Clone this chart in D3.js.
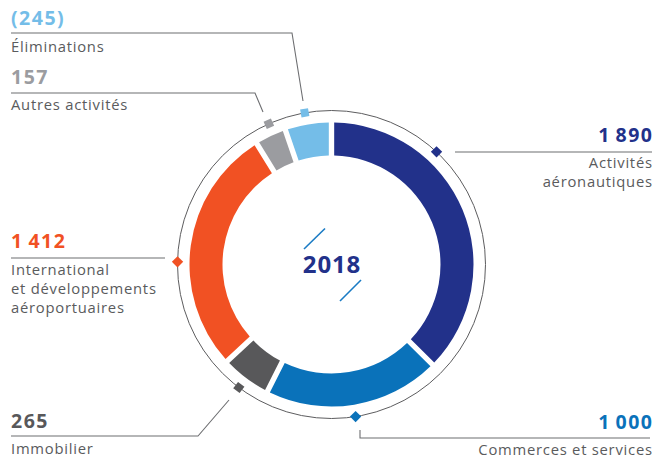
<!DOCTYPE html>
<html><head><meta charset="utf-8">
<script src="https://cdn.jsdelivr.net/npm/d3@7"></script>
<style>
html,body{margin:0;padding:0;background:#fff;}
svg{display:block;font-family:"Open Sans","Lato",sans-serif;}
</style></head>
<body><svg id="chart" width="654" height="463"></svg>
<script>
// ---- data ----
const year = "2018";
const categories = ["Activités aéronautiques", "Commerces et services", "Immobilier",
  "International et développements aéroportuaires", "Autres activités", "Éliminations"];
const values = [1890, 1000, 265, 1412, 157, -245];
const labelLines = [["Activités", "aéronautiques"], ["Commerces et services"], ["Immobilier"],
  ["International", "et développements", "aéroportuaires"], ["Autres activités"], ["Éliminations"]];
const colors = ["#22318a", "#0a72ba", "#58585a", "#f15123", "#9b9ca0", "#74bde8"];

// ---- layout ----
const W = 654, H = 463, cx = 331.5, cy = 264.5;
const rOuter = 142, rInner = 109, rRing = 154;
const numLS = 1.5, labLS = 0.75;
const layout = [
  {markerDeg: 43, rot: 45, textX: 652, anchor: "end", numY: 141.5, labY: 168, path: [[455,152],[652,152]]},
  {markerDeg: 171, rot: 45, textX: 652, anchor: "end", numY: 429, labY: 455, path: [[360,430],[360,438],[650,438]]},
  {markerDeg: 217, rot: 37, textX: 11, anchor: "start", numY: 428, labY: 454, path: [[229,400],[198,436],[11,436]]},
  {markerDeg: 271, rot: 45, textX: 11, anchor: "start", numY: 248, labY: 275, path: [[165,258],[11,258]]},
  {markerDeg: 336, rot: -24, textX: 11, anchor: "start", numY: 84, labY: 110, path: [[263,112],[255,93],[11,93]]},
  {markerDeg: 350, rot: -10, textX: 11, anchor: "start", numY: 25, labY: 52, path: [[303,101],[292,33],[11,33]]}
];

const fmtLocale = d3.formatLocale({decimal: ",", thousands: "\u2009", grouping: [3], currency: ["", " €"]});
const fmtN = fmtLocale.format(",d");
const fmt = v => v < 0 ? "(" + fmtN(-v) + ")" : fmtN(v);

const svg = d3.select("#chart");
const g = svg.append("g").attr("transform", `translate(${cx},${cy})`);

const pie = d3.pie().value(d => Math.abs(d)).sort(null).padAngle(0.03);
const arcs = pie(values);
const arc = d3.arc().innerRadius(rInner).outerRadius(rOuter);

g.selectAll("path.seg").data(arcs).join("path")
  .attr("class", "seg").attr("d", arc).attr("fill", (d, i) => colors[i]);

// thin ring
g.append("circle").attr("r", rRing).attr("fill", "none").attr("stroke", "#5d5d5f").attr("stroke-width", 1);

// leader lines
const line = d3.line();
svg.selectAll("path.leader").data(layout).join("path")
  .attr("class", "leader").attr("d", d => line(d.path))
  .attr("fill", "none").attr("stroke", "#6d6e71").attr("stroke-width", 1.1);

// markers
const ang = d3.scaleLinear().domain([0, 360]).range([0, 2 * Math.PI]);
g.selectAll("rect.mk").data(layout).join("rect")
  .attr("class", "mk")
  .attr("x", -4).attr("y", -4).attr("width", 8).attr("height", 8)
  .attr("fill", (d, i) => colors[i])
  .attr("transform", d => {
    const a = ang(d.markerDeg);
    return `translate(${rRing * Math.sin(a)},${-rRing * Math.cos(a)}) rotate(${d.rot})`;
  });

// numbers
svg.selectAll("text.num").data(layout).join("text")
  .attr("class", "num").attr("x", d => d.anchor === "end" ? d.textX + numLS : d.textX).attr("y", d => d.numY)
  .attr("text-anchor", d => d.anchor)
  .attr("font-size", 19.5).attr("font-weight", 700).attr("letter-spacing", numLS)
  .attr("fill", (d, i) => colors[i])
  .text((d, i) => fmt(values[i]));

// labels
layout.forEach((d, i) => {
  const x = d.anchor === "end" ? d.textX + labLS : d.textX;
  const t = svg.append("text").attr("x", x).attr("y", d.labY)
    .attr("text-anchor", d.anchor).attr("font-size", 14.8).attr("letter-spacing", labLS)
    .attr("fill", "#5a5b5d");
  labelLines[i].forEach((s, j) => {
    t.append("tspan").attr("x", x).attr("y", d.labY + j * 19).text(s);
  });
});

// center
g.append("text").attr("x", 0.4).attr("y", 8.5).attr("text-anchor", "middle")
  .attr("font-size", 24).attr("font-weight", 700).attr("letter-spacing", 0.8)
  .attr("fill", "#22318a").text(year);
g.append("line").attr("x1", -27.5).attr("y1", -15.5).attr("x2", -6.5).attr("y2", -36)
  .attr("stroke", "#1a7bc4").attr("stroke-width", 1.6);
g.append("line").attr("x1", 8.5).attr("y1", 36.5).attr("x2", 29.5).attr("y2", 15.5)
  .attr("stroke", "#1a7bc4").attr("stroke-width", 1.6);
</script></body></html>
